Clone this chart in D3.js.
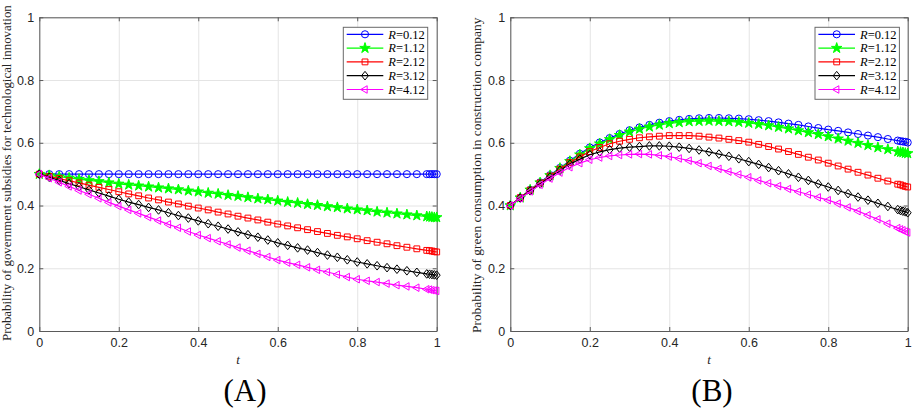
<!DOCTYPE html>
<html>
<head>
<meta charset="utf-8">
<script src="https://cdn.jsdelivr.net/npm/d3@7"></script>
<style>
  body { margin: 0; background: #fff; }
  svg { display: block; }
  .grid line { stroke: #e4e4e4; stroke-width: 1; }
  .grid path { display: none; }
  .axis path, .axis line { stroke: #5a5a5a; }
</style>
</head>
<body>
<script>
// time points of the solver output (regular steps plus the refined end)
const tValues = [
  0, 0.025, 0.05, 0.075, 0.1, 0.125, 0.15, 0.175,
  0.2, 0.225, 0.25, 0.275, 0.3, 0.325, 0.35, 0.375,
  0.4, 0.425, 0.45, 0.475, 0.5, 0.525, 0.55, 0.575,
  0.6, 0.625, 0.65, 0.675, 0.7, 0.725, 0.75, 0.775,
  0.8, 0.825, 0.85, 0.875, 0.9, 0.925, 0.95, 0.975,
  0.982, 0.988, 0.994, 1
];

const rLabels = ["0.12", "1.12", "2.12", "3.12", "4.12"];
const axisTicks = [0, 0.2, 0.4, 0.6, 0.8, 1];

// Panel A: government subsidies
const govR012 = [
  .500, .500, .500, .500, .500, .500, .500, .500,
  .500, .500, .500, .500, .500, .500, .500, .500,
  .500, .500, .500, .500, .500, .500, .500, .500,
  .500, .500, .500, .500, .500, .500, .500, .500,
  .500, .500, .500, .500, .500, .500, .500, .500,
  .500, .500, .500, .500
];
const govR112 = [
  .500, .496, .492, .488, .484, .480, .477, .473,
  .469, .466, .463, .460, .457, .454, .451, .447,
  .444, .440, .437, .433, .430, .426, .422, .419,
  .415, .411, .408, .404, .401, .397, .394, .390,
  .387, .384, .380, .377, .374, .371, .368, .365,
  .364, .363, .362, .362
];
const govR212 = [
  .500, .493, .486, .479, .472, .465, .458, .451,
  .444, .437, .431, .424, .418, .411, .405, .398,
  .392, .386, .379, .373, .366, .360, .354, .347,
  .341, .335, .329, .323, .317, .311, .305, .300,
  .294, .288, .283, .278, .272, .267, .262, .257,
  .256, .255, .253, .252
];
const govR312 = [
  .500, .490, .480, .470, .460, .450, .440, .430,
  .420, .411, .403, .394, .386, .377, .368, .360,
  .351, .342, .334, .325, .316, .307, .299, .290,
  .281, .273, .265, .258, .250, .242, .235, .227,
  .220, .214, .208, .202, .197, .192, .187, .182,
  .181, .180, .179, .178
];
const govR412 = [
  .500, .487, .474, .461, .448, .436, .423, .410,
  .398, .386, .375, .363, .352, .340, .329, .317,
  .306, .296, .286, .276, .266, .256, .246, .236,
  .226, .218, .211, .203, .195, .188, .180, .172,
  .165, .160, .156, .151, .146, .142, .138, .133,
  .132, .130, .129, .128
];

// Panel B: construction company green consumption
const conR012 = [
  .400, .425, .450, .474, .497, .520, .543, .565,
  .585, .601, .615, .628, .640, .649, .657, .664,
  .669, .673, .676, .678, .679, .679, .678, .677,
  .675, .672, .669, .665, .661, .657, .652, .647,
  .642, .638, .633, .628, .623, .618, .612, .607,
  .605, .604, .603, .601
];
const conR112 = [
  .400, .425, .450, .473, .496, .519, .541, .562,
  .582, .597, .611, .624, .635, .644, .651, .657,
  .662, .665, .668, .669, .670, .669, .668, .666,
  .663, .659, .655, .650, .645, .639, .633, .627,
  .620, .613, .606, .599, .592, .585, .579, .572,
  .570, .569, .567, .566
];
const conR212 = [
  .400, .425, .449, .472, .494, .516, .537, .555,
  .572, .585, .597, .605, .611, .616, .619, .621,
  .623, .623, .623, .621, .618, .615, .611, .607,
  .602, .595, .588, .580, .572, .563, .554, .545,
  .535, .526, .516, .506, .497, .487, .478, .468,
  .466, .463, .461, .459
];
const conR312 = [
  .400, .424, .447, .469, .491, .512, .532, .548,
  .562, .571, .578, .583, .586, .588, .590, .590,
  .589, .586, .582, .577, .571, .564, .557, .549,
  .540, .531, .521, .511, .501, .490, .480, .469,
  .459, .448, .438, .427, .417, .407, .397, .387,
  .384, .382, .380, .377
];
const conR412 = [
  .400, .423, .445, .466, .486, .505, .522, .535,
  .546, .553, .558, .561, .563, .564, .563, .560,
  .556, .550, .543, .535, .526, .517, .508, .499,
  .490, .480, .471, .462, .453, .444, .435, .426,
  .417, .406, .394, .382, .369, .356, .342, .328,
  .324, .321, .317, .314
];

const width = 913, height = 408;
const plotTop = 17.3, plotBottom = 331;
const sansFont = "'Liberation Sans', Arial, Helvetica, sans-serif";
const serifFont = "'Liberation Serif', 'Times New Roman', Times, serif";

// MATLAB-like marker shapes
const symbolDiamond = {
  draw(context, size) {
    const h = Math.sqrt(size) * 0.6, w = h * 0.8;
    context.moveTo(0, -h);
    context.lineTo(w, 0);
    context.lineTo(0, h);
    context.lineTo(-w, 0);
    context.closePath();
  }
};
const symbolTriangleLeft = {
  draw(context, size) {
    const r = Math.sqrt(size) * 0.6;
    context.moveTo(-r, 0);
    context.lineTo(r * 0.5, -r * 0.87);
    context.lineTo(r * 0.5, r * 0.87);
    context.closePath();
  }
};

const styles = [
  { color: "#0000ff", type: d3.symbolCircle, size: 40, fill: "none" },
  { color: "#00ff00", type: d3.symbolStar, size: 34, fill: "#00ff00" },
  { color: "#ff0000", type: d3.symbolSquare, size: 34, fill: "none" },
  { color: "#000000", type: symbolDiamond, size: 52, fill: "none" },
  { color: "#ff00ff", type: symbolTriangleLeft, size: 52, fill: "none" }
];

const svg = d3.select("body").append("svg")
  .attr("width", width)
  .attr("height", height);

function styleTicks(sel) {
  sel.selectAll(".tick text")
    .style("font-family", sansFont)
    .style("font-size", "12.5px")
    .style("fill", "#262626");
}

function drawPanel(cfg) {
  const x = d3.scaleLinear().domain([0, 1]).range([cfg.left, cfg.right]);
  const y = d3.scaleLinear().domain([0, 1]).range([plotBottom, plotTop]);
  const g = svg.append("g");
  const w = cfg.right - cfg.left, h = plotBottom - plotTop;

  // grid
  g.append("g").attr("class", "grid")
    .attr("transform", `translate(0,${plotBottom})`)
    .call(d3.axisBottom(x).tickValues(axisTicks).tickSize(-h).tickFormat(""));
  g.append("g").attr("class", "grid")
    .attr("transform", `translate(${cfg.left},0)`)
    .call(d3.axisLeft(y).tickValues(axisTicks).tickSize(-w).tickFormat(""));

  const fmt = d3.format("~g");

  // axes (box with inward ticks on all sides)
  g.append("g").attr("class", "axis")
    .attr("transform", `translate(0,${plotBottom})`)
    .call(d3.axisBottom(x).tickValues(axisTicks).tickSizeInner(-4).tickSizeOuter(0)
      .tickPadding(7).tickFormat(fmt))
    .call(styleTicks);
  g.append("g").attr("class", "axis")
    .attr("transform", `translate(${cfg.left},0)`)
    .call(d3.axisLeft(y).tickValues(axisTicks).tickSizeInner(-4).tickSizeOuter(0)
      .tickPadding(5).tickFormat(fmt))
    .call(styleTicks);
  g.append("g").attr("class", "axis")
    .attr("transform", `translate(0,${plotTop})`)
    .call(d3.axisTop(x).tickValues(axisTicks).tickSizeInner(-4).tickSizeOuter(0).tickFormat(""));
  g.append("g").attr("class", "axis")
    .attr("transform", `translate(${cfg.right},0)`)
    .call(d3.axisRight(y).tickValues(axisTicks).tickSizeInner(-4).tickSizeOuter(0).tickFormat(""));

  // series
  const line = d3.line().x((d, i) => x(tValues[i])).y(d => y(d));
  cfg.series.forEach((values, k) => {
    const st = styles[k];
    g.append("path")
      .datum(values)
      .attr("d", line)
      .attr("fill", "none")
      .attr("stroke", st.color)
      .attr("stroke-width", 1.2);
    g.append("g").selectAll("path")
      .data(values)
      .enter()
      .append("path")
      .attr("transform", (d, i) => `translate(${x(tValues[i])},${y(d)})`)
      .attr("d", d3.symbol().type(st.type).size(st.size))
      .attr("fill", st.fill)
      .attr("stroke", st.color)
      .attr("stroke-width", 1);
  });

  // x label
  g.append("text")
    .attr("x", (cfg.left + cfg.right) / 2)
    .attr("y", 364)
    .attr("text-anchor", "middle")
    .style("font-family", serifFont)
    .style("font-size", "13px")
    .style("font-style", "italic")
    .style("fill", "#262626")
    .text("t");

  // y label
  g.append("text")
    .attr("transform", `translate(${cfg.yLabelX},${cfg.yLabelBottom}) rotate(-90)`)
    .attr("dy", "0.35em")
    .attr("text-anchor", "start")
    .style("font-family", serifFont)
    .style("font-size", cfg.yLabelSize)
    .style("fill", "#262626")
    .text(cfg.yLabel);

  // panel caption
  g.append("text")
    .attr("x", cfg.captionX)
    .attr("y", 401)
    .attr("text-anchor", "middle")
    .style("font-family", serifFont)
    .style("font-size", "31px")
    .style("fill", "#000")
    .text(cfg.caption);

  // legend
  const lg = g.append("g").attr("transform", `translate(${cfg.legendX},27.3)`);
  lg.append("rect")
    .attr("width", 84.4)
    .attr("height", 72)
    .attr("fill", "#fff")
    .attr("stroke", "#6a6a6a")
    .attr("stroke-width", 1);
  rLabels.forEach((lab, k) => {
    const st = styles[k];
    const row = lg.append("g").attr("transform", `translate(0,${7 + k * 13.8})`);
    row.append("line")
      .attr("x1", 3.4).attr("x2", 40)
      .attr("stroke", st.color).attr("stroke-width", 1.2);
    row.append("path")
      .attr("transform", "translate(21.7,0)")
      .attr("d", d3.symbol().type(st.type).size(st.size))
      .attr("fill", st.fill)
      .attr("stroke", st.color);
    const txt = row.append("text")
      .attr("x", 45)
      .attr("dy", "0.35em")
      .style("font-family", serifFont)
      .style("font-size", "12.5px")
      .style("fill", "#000");
    txt.append("tspan").style("font-style", "italic").text("R");
    txt.append("tspan").text("=" + lab);
  });
}

drawPanel({
  left: 39.3, right: 436.7,
  series: [govR012, govR112, govR212, govR312, govR412],
  yLabel: "Probability of government subsidies for technological innovation",
  yLabelX: 6, yLabelBottom: 341, yLabelSize: "12.9px",
  caption: "(A)", captionX: 245,
  legendX: 343.3
});

drawPanel({
  left: 510.3, right: 907.7,
  series: [conR012, conR112, conR212, conR312, conR412],
  yLabel: "Probability of green consumption in construction company",
  yLabelX: 476, yLabelBottom: 333, yLabelSize: "13.4px",
  caption: "(B)", captionX: 712,
  legendX: 815
});
</script>
</body>
</html>
